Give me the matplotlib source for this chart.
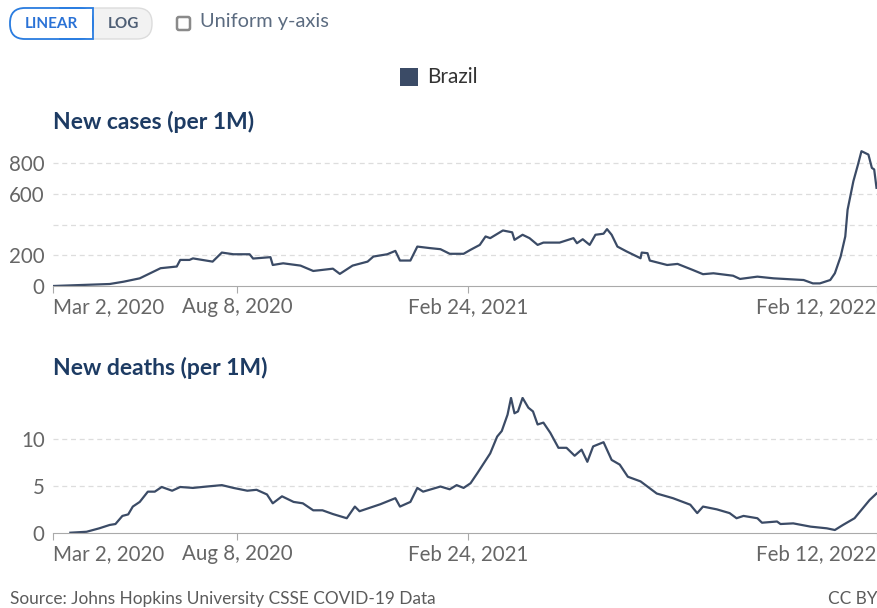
import pandas as pd
import matplotlib
matplotlib.use("Agg")
import matplotlib.pyplot as plt
from matplotlib.patches import FancyBboxPatch, Rectangle

plt.rcParams["font.family"] = ["Lato", "DejaVu Sans"]

# ========== data ==========
case_dates = ["2020-03-02", "2020-04-20", "2020-05-02", "2020-05-16", "2020-05-25", "2020-06-03",
              "2020-06-17", "2020-06-20", "2020-06-28", "2020-07-01", "2020-07-18", "2020-07-26",
              "2020-08-05", "2020-08-19", "2020-08-22", "2020-09-06", "2020-09-08", "2020-09-17",
              "2020-10-02", "2020-10-13", "2020-10-30", "2020-11-05", "2020-11-16", "2020-11-29",
              "2020-12-04", "2020-12-16", "2020-12-23", "2020-12-27", "2021-01-05", "2021-01-11",
              "2021-01-22", "2021-01-31", "2021-02-08", "2021-02-20", "2021-02-26", "2021-03-06",
              "2021-03-11", "2021-03-15", "2021-03-26", "2021-04-03", "2021-04-05", "2021-04-12",
              "2021-04-18", "2021-04-25", "2021-04-30", "2021-05-14", "2021-05-26", "2021-05-29",
              "2021-06-03", "2021-06-09", "2021-06-14", "2021-06-21", "2021-06-24", "2021-06-28",
              "2021-07-03", "2021-07-11", "2021-07-23", "2021-07-24", "2021-07-29", "2021-07-31",
              "2021-08-15", "2021-08-24", "2021-09-06", "2021-09-15", "2021-09-24", "2021-10-11",
              "2021-10-17", "2021-11-01", "2021-11-15", "2021-11-29", "2021-12-11", "2021-12-19",
              "2021-12-25", "2022-01-03", "2022-01-07", "2022-01-12", "2022-01-16", "2022-01-18",
              "2022-01-23", "2022-01-27", "2022-01-30", "2022-02-02", "2022-02-05", "2022-02-08",
              "2022-02-10", "2022-02-12"]
new_cases = [0, 13, 28, 50, 83, 116, 127, 170, 170, 180, 159, 218, 207, 207, 179, 188, 137, 148,
             133, 98, 113, 79, 133, 159, 192, 207, 229, 166, 166, 257, 247, 240, 210, 210, 236,
             268, 323, 312, 362, 350, 301, 334, 312, 268, 283, 283, 312, 279, 305, 268, 334, 341,
             371, 334, 257, 225, 181, 218, 214, 166, 137, 144, 105, 77, 83, 67, 46, 61, 50, 44,
             39, 17, 17, 39, 83, 192, 323, 497, 683, 792, 879, 868, 857, 770, 760, 640]

death_dates = ["2020-03-17", "2020-03-31", "2020-04-11", "2020-04-20", "2020-04-25", "2020-05-01",
               "2020-05-06", "2020-05-10", "2020-05-16", "2020-05-23", "2020-05-29", "2020-06-04",
               "2020-06-13", "2020-06-20", "2020-07-01", "2020-07-13", "2020-07-26", "2020-08-05",
               "2020-08-17", "2020-08-25", "2020-09-03", "2020-09-08", "2020-09-16", "2020-09-26",
               "2020-10-04", "2020-10-13", "2020-10-21", "2020-10-30", "2020-11-11", "2020-11-18",
               "2020-11-22", "2020-12-10", "2020-12-23", "2020-12-27", "2021-01-05", "2021-01-11",
               "2021-01-16", "2021-01-31", "2021-02-08", "2021-02-14", "2021-02-20", "2021-02-26",
               "2021-03-04", "2021-03-15", "2021-03-21", "2021-03-25", "2021-03-30", "2021-04-02",
               "2021-04-05", "2021-04-08", "2021-04-12", "2021-04-17", "2021-04-21", "2021-04-25",
               "2021-04-30", "2021-05-06", "2021-05-13", "2021-05-20", "2021-05-27", "2021-06-02",
               "2021-06-07", "2021-06-12", "2021-06-21", "2021-06-28", "2021-07-05", "2021-07-12",
               "2021-07-23", "2021-08-06", "2021-08-20", "2021-09-04", "2021-09-10", "2021-09-15",
               "2021-09-27", "2021-10-08", "2021-10-14", "2021-10-20", "2021-11-01", "2021-11-05",
               "2021-11-18", "2021-11-21", "2021-12-02", "2021-12-17", "2021-12-31", "2022-01-07",
               "2022-01-14", "2022-01-24", "2022-01-31", "2022-02-06", "2022-02-12"]
new_deaths = [0, 0.1, 0.47, 0.83, 0.93, 1.8, 1.96, 2.8, 3.3, 4.4, 4.4, 4.9, 4.5, 4.9, 4.8, 4.95,
              5.1, 4.8, 4.5, 4.6, 4.1, 3.15, 3.9, 3.3, 3.15, 2.4, 2.4, 2.0, 1.55, 2.8, 2.3, 3.05,
              3.7, 2.8, 3.3, 4.8, 4.4, 4.95, 4.65, 5.1, 4.8, 5.3, 6.4, 8.5, 10.3, 10.9, 12.65,
              14.45, 12.8, 13.0, 14.45, 13.4, 13.0, 11.6, 11.8, 10.7, 9.1, 9.1, 8.25, 8.9, 7.6,
              9.25, 9.7, 7.8, 7.3, 6.0, 5.5, 4.2, 3.7, 3.0, 2.1, 2.8, 2.5, 2.1, 1.55, 1.8, 1.55,
              1.07, 1.2, 0.93, 1.0, 0.65, 0.47, 0.29, 0.83, 1.55, 2.6, 3.5, 4.2]

x_ticks = ["2020-03-02", "2020-08-08", "2021-02-24", "2022-02-12"]
x_labels = ["Mar 2, 2020", "Aug 8, 2020", "Feb 24, 2021", "Feb 12, 2022"]
x_align = ["left", "center", "center", "right"]

case_ticks = [0, 200, 400, 600, 800]
case_labels = ["0", "200", "", "600", "800"]
death_ticks = [0, 5, 10]
death_labels = ["0", "5", "10"]

LINE = "#3b4b66"
TITLE = "#1d3b63"
GRAY = "#666666"

W, H = 877, 608
fig = plt.figure(figsize=(W / 100, H / 100), dpi=100)


def px_axes(left, top, right, bottom):
    return fig.add_axes([left / W, 1 - bottom / H, (right - left) / W, (bottom - top) / H])


def panel(ax, dates, vals, yticks, ylabels, ymax, title, title_y):
    ax.plot(pd.to_datetime(dates), vals, color=LINE, lw=1.6, solid_joinstyle="round")
    ax.set_xlim(pd.Timestamp(x_ticks[0]), pd.Timestamp(x_ticks[-1]))
    ax.set_ylim(0, ymax)
    for t in yticks[1:]:
        ax.axhline(t, color="#dddddd", lw=0.9, ls=(0, (4, 3)), zorder=0)
    for s in ["top", "right", "left"]:
        ax.spines[s].set_visible(False)
    ax.spines["bottom"].set_color("#aaaaaa")
    ax.set_yticks(yticks)
    ax.set_yticklabels(ylabels)
    ax.tick_params(axis="y", length=0, pad=6, labelsize=14.8, labelcolor=GRAY)
    ax.set_xticks(pd.to_datetime(x_ticks))
    ax.set_xticklabels(x_labels)
    ax.tick_params(axis="x", length=5, color="#aaaaaa", pad=3, labelsize=14.8, labelcolor=GRAY)
    for lab, ha in zip(ax.get_xticklabels(), x_align):
        lab.set_ha(ha)
    ax.patch.set_alpha(0)
    fig.text(53 / W, 1 - title_y / H, title, fontsize=16.5, fontweight="bold",
             color=TITLE, va="center", ha="left")


ax1 = px_axes(53, 149.5, 876.5, 286)
panel(ax1, case_dates, new_cases, case_ticks, case_labels, 890, "New cases (per 1M)", 122)

ax2 = px_axes(53, 396.5, 876.5, 532.7)
panel(ax2, death_dates, new_deaths, death_ticks, death_labels, 14.6, "New deaths (per 1M)", 368)

# ========== overlay: controls, legend, footer ==========
ov = fig.add_axes([0, 0, 1, 1], zorder=-1)
ov.set_xlim(0, W)
ov.set_ylim(H, 0)
ov.axis("off")

ov.add_patch(FancyBboxPatch((10, 8), 142, 31, boxstyle="round,pad=0,rounding_size=15",
                            fc="#f2f2f2", ec="#dcdcdc", lw=1))
ov.add_patch(FancyBboxPatch((10, 8), 83, 31, boxstyle="round,pad=0,rounding_size=15",
                            fc="white", ec="#2a7de1", lw=1.3))
ov.add_patch(Rectangle((70, 8.7), 22.3, 29.6, fc="white", ec="none"))
ov.plot([60, 93, 93, 60], [8, 8, 39, 39], color="#2a7de1", lw=1.3, solid_joinstyle="miter")
ov.text(51.5, 24, "LINEAR", fontsize=11, fontweight="bold", color="#2a72d6", ha="center", va="center")
ov.text(123, 24, "LOG", fontsize=11, fontweight="bold", color="#4e5e74", ha="center", va="center")

ov.add_patch(FancyBboxPatch((177, 17), 13, 13, boxstyle="round,pad=0,rounding_size=2",
                            fc="white", ec="#8a8a8a", lw=1.8))
ov.text(200, 22, "Uniform y-axis", fontsize=14.4, color="#5b6b80", ha="left", va="center")

ov.add_patch(Rectangle((400, 68), 18, 18, fc=LINE, ec="none"))
ov.text(427, 77, "Brazil", fontsize=15, color="#333333", ha="left", va="center")

ov.text(10, 599, "Source: Johns Hopkins University CSSE COVID-19 Data", fontsize=12.4,
        color="#5b5b5b", ha="left", va="center")
ov.text(877, 599, "CC BY", fontsize=12.4, color="#5b5b5b", ha="right", va="center")

fig.savefig("out.png", dpi=100)
